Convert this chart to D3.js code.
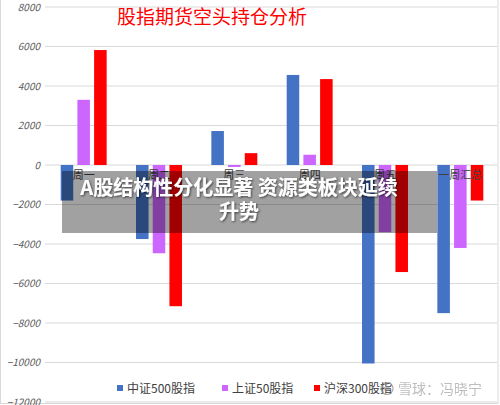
<!DOCTYPE html>
<html><head><meta charset="utf-8">
<script src="https://cdn.jsdelivr.net/npm/d3@7"></script>
<style>body{margin:0;background:#fff}svg{display:block}</style>
</head><body>
<svg id="c" width="500" height="405"></svg>
<script>
const categories = ["周一","周二","周三","周四","周五","一周汇总"];
const seriesNames = ["中证500股指","上证50股指","沪深300股指"];
const seriesColors = ["#4472C4","#CC66FF","#FF0000"];
const csi500 = [-1800,-3750,1720,4560,-10050,-7500];
const sse50 = [3300,-4470,-100,520,-3400,-4200];
const hs300 = [5820,-7150,600,4350,-5420,-1800];
const yTicks = [8000,6000,4000,2000,0,-2000,-4000,-6000,-8000,-10000,-12000];
const title = "股指期货空头持仓分析";
const bannerLines = ["A股结构性分化显著 资源类板块延续","升势"];
const watermark = "雪球：冯晓宁";

const seriesValues = [csi500, sse50, hs300];
const svg = d3.select("#c");
const font = "'Noto Sans CJK SC','Noto Sans',sans-serif";

svg.append("rect").attr("x",0.5).attr("y",-2).attr("width",497.5).attr("height",405.5)
  .attr("fill","#fff").attr("stroke","#d9d9d9");

const y = d3.scaleLinear().domain([-12000,8000]).range([402,7]);
const x = d3.scaleBand().domain(categories).range([46,498]).paddingInner(0.39).paddingOuter(0.195);
const x1 = d3.scaleBand().domain(seriesNames).range([0,x.bandwidth()]).paddingInner(0.25);

// gridlines
svg.append("g").selectAll("line").data(yTicks).join("line")
  .attr("x1",45).attr("x2",497).attr("y1",d=>y(d)).attr("y2",d=>y(d))
  .attr("stroke","#d9d9d9").attr("stroke-width",1);

// y axis labels
const yAxis = d3.axisLeft(y).tickValues(yTicks).tickSize(0).tickPadding(0).tickFormat(d3.format("d"));
const ga = svg.append("g").attr("transform","translate(40,0)").call(yAxis);
ga.select(".domain").remove();
ga.selectAll("text").attr("font-family",font).attr("font-size",10).attr("font-style","italic")
  .attr("fill","#595959");

// bars
seriesNames.forEach((s,si)=>{
  svg.append("g").selectAll("rect").data(categories.map((c,i)=>({c,v:seriesValues[si][i]}))).join("rect")
    .attr("x",d=>x(d.c)+x1(s))
    .attr("width",x1.bandwidth())
    .attr("y",d=>y(Math.max(0,d.v)))
    .attr("height",d=>Math.abs(y(d.v)-y(0)))
    .attr("fill",seriesColors[si]);
});

// category labels
svg.append("g").selectAll("text").data(categories).join("text")
  .attr("x",d=>x(d)+x.bandwidth()/2).attr("y",y(0)+14)
  .attr("text-anchor","middle").attr("font-family",font).attr("font-size",11)
  .attr("fill","#404040").text(d=>d);

// title
svg.append("text").attr("x",117).attr("y",24).attr("font-family",font).attr("font-size",19)
  .attr("fill","#ff0000").text(title);

// legend
const legX = [117,222,314];
seriesNames.forEach((s,i)=>{
  svg.append("rect").attr("x",legX[i]).attr("y",385).attr("width",6).attr("height",6).attr("fill",seriesColors[i]);
  svg.append("text").attr("x",legX[i]+10).attr("y",393).attr("font-family",font).attr("font-size",12)
    .attr("fill","#404040").text(s);
});

// watermark
const wm = svg.append("g").attr("opacity",0.55);
wm.append("circle").attr("cx",387).attr("cy",388.5).attr("r",6).attr("fill","none").attr("stroke","#666").attr("stroke-width",1.2);
wm.append("circle").attr("cx",387).attr("cy",388.5).attr("r",2.8).attr("fill","#888");
wm.append("text").attr("x",398).attr("y",394).attr("font-family",font).attr("font-size",14)
  .attr("fill","#888").text(watermark);

// banner
svg.append("rect").attr("x",62).attr("y",171).attr("width",375).attr("height",62)
  .attr("fill","rgba(0,0,0,0.37)");
const defs = svg.append("defs");
const f = defs.append("filter").attr("id","sh").attr("x","-10%").attr("y","-30%").attr("width","120%").attr("height","160%");
f.append("feDropShadow").attr("dx",1).attr("dy",1).attr("stdDeviation",1).attr("flood-color","#000").attr("flood-opacity",0.6);
svg.append("g").attr("filter","url(#sh)").selectAll("text").data(bannerLines).join("text")
  .attr("x",239).attr("y",(d,i)=>195+i*24).attr("text-anchor","middle")
  .attr("font-family",font).attr("font-weight","bold").attr("font-size",20)
  .attr("fill","#fff").text(d=>d);
</script>
</body></html>
